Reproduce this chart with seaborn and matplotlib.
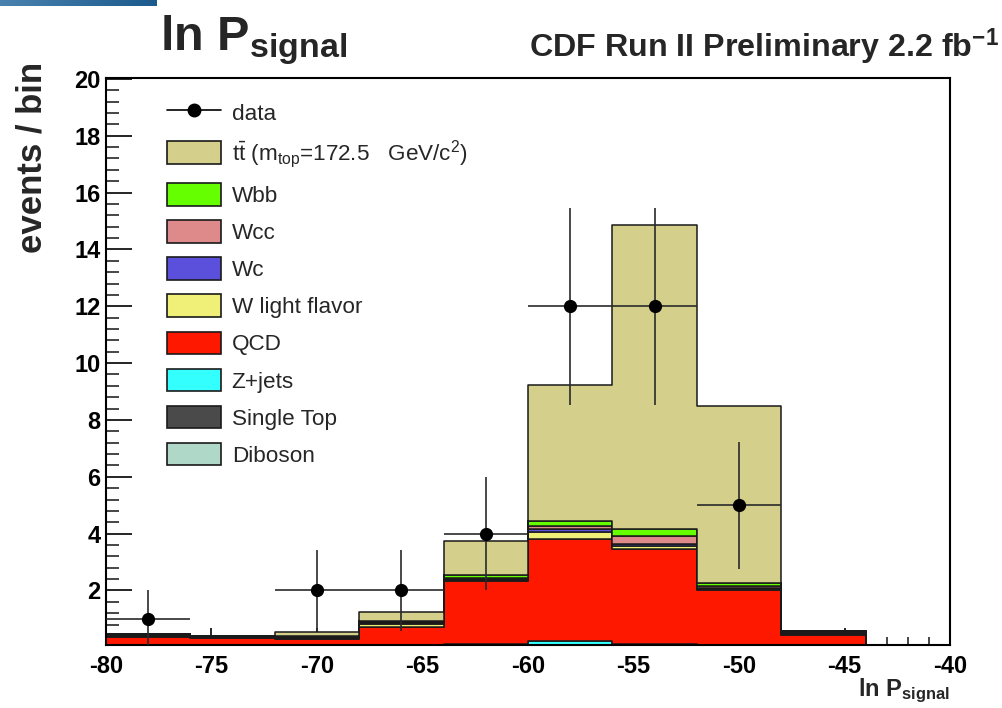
import numpy as np
import pandas as pd
import matplotlib
matplotlib.use("Agg")
import matplotlib.pyplot as plt
import seaborn as sns
from matplotlib.patches import Patch
from matplotlib.lines import Line2D
from matplotlib.ticker import MultipleLocator
from matplotlib.colors import LinearSegmentedColormap

# ---------------- data ----------------
bin_edges = [-80, -76, -72, -68, -64, -60, -56, -52, -48, -44, -40]
bin_centers = [-78, -74, -70, -66, -62, -58, -54, -50, -46, -42]

processes = ["ttbar", "Wbb", "Wcc", "Wc", "Wlf", "QCD", "Zjets", "SingleTop", "Diboson"]
legend_labels = [
    r"$\mathrm{t\bar{t}}$ (m$_{\mathrm{top}}$=172.5   GeV/c$^{2}$)",
    "Wbb", "Wcc", "Wc", "W light flavor", "QCD", "Z+jets", "Single Top", "Diboson",
]
colors = ["#d4cf8a", "#66ff00", "#de8a8a", "#5a50dc", "#f0f078",
          "#ff1800", "#33ffff", "#4a4a4a", "#b0d8c8"]

ttbar = [0.00, 0.00, 0.17, 0.32, 1.19, 4.77, 10.71, 6.24, 0.02, 0.0]
wbb   = [0.03, 0.02, 0.03, 0.03, 0.10, 0.19, 0.25, 0.11, 0.03, 0.0]
wcc   = [0.03, 0.02, 0.02, 0.03, 0.04, 0.12, 0.25, 0.04, 0.03, 0.0]
wc    = [0.03, 0.02, 0.02, 0.03, 0.04, 0.08, 0.09, 0.04, 0.03, 0.0]
wlf   = [0.04, 0.03, 0.03, 0.10, 0.04, 0.27, 0.10, 0.04, 0.05, 0.0]
qcd   = [0.33, 0.30, 0.27, 0.71, 2.21, 3.58, 3.33, 1.93, 0.38, 0.0]
zjets = [0.00, 0.00, 0.00, 0.00, 0.05, 0.19, 0.02, 0.03, 0.02, 0.0]
stop  = [0.01, 0.02, 0.01, 0.02, 0.05, 0.01, 0.10, 0.05, 0.02, 0.0]
dibos = [0.01, 0.00, 0.00, 0.00, 0.02, 0.02, 0.01, 0.01, 0.00, 0.0]

data_counts = [1, 0, 2, 2, 4, 12, 12, 5, 0, 0]
data_errors = [1.0, 0.0, 1.41, 1.41, 2.0, 3.46, 3.46, 2.24, 0.0, 0.0]

x_ticks = [-80, -75, -70, -65, -60, -55, -50, -45, -40]
y_ticks = [2, 4, 6, 8, 10, 12, 14, 16, 18, 20]

# ---------------- style ----------------
sns.set_style("ticks")
plt.rcParams["font.family"] = ["Liberation Sans", "DejaVu Sans"]
plt.rcParams["mathtext.fontset"] = "custom"
plt.rcParams["mathtext.rm"] = "Liberation Sans"
plt.rcParams["mathtext.it"] = "Liberation Sans:italic"
plt.rcParams["mathtext.bf"] = "Liberation Sans:bold"
plt.rcParams["axes.unicode_minus"] = False

series = dict(zip(processes, [ttbar, wbb, wcc, wc, wlf, qcd, zjets, stop, dibos]))
rows = []
for p in processes:
    for c, w in zip(bin_centers, series[p]):
        rows.append({"x": c, "w": w, "process": p})
df = pd.DataFrame(rows)

fig = plt.figure(figsize=(10.02, 7.08), dpi=100)
ax = fig.add_axes([106 / 1002, 1 - 645 / 708, (950 - 106) / 1002, (645 - 77.5) / 708])

sns.histplot(data=df, x="x", weights="w", hue="process", hue_order=processes,
             palette=dict(zip(processes, colors)), multiple="stack",
             element="step", bins=bin_edges, alpha=1, edgecolor="#1a1a1a",
             linewidth=1.1, legend=False, ax=ax)

dx = np.array(bin_centers, dtype=float)
dy = np.array(data_counts, dtype=float)
de = np.array(data_errors, dtype=float)
mask = dy > 0
half = (bin_edges[1] - bin_edges[0]) / 2
ax.errorbar(dx[mask], dy[mask], xerr=half, yerr=de[mask], fmt="o", color="black",
            ecolor="#2a2a2a", elinewidth=1.2, markersize=8.5, capsize=0, zorder=5)

ax.set_xlim(-80, -40)
ax.set_ylim(0.08, 20.05)
ax.set_xticks(x_ticks, labels=[str(t) for t in x_ticks], fontweight="bold", fontsize=17)
ax.set_yticks(y_ticks, labels=[str(t) for t in y_ticks], fontweight="bold", fontsize=17)
ax.xaxis.set_minor_locator(MultipleLocator(1))
ax.yaxis.set_minor_locator(MultipleLocator(0.4))
ax.tick_params(axis="x", which="major", direction="in", length=12, width=1.2, pad=7,
               top=False, colors="black")
ax.tick_params(axis="x", which="minor", direction="in", length=6, width=1.2, top=False)
ax.tick_params(axis="y", which="major", direction="in", length=19, width=1.2, pad=4,
               right=False, colors="black")
ax.tick_params(axis="y", which="minor", direction="in", length=9.5, width=1.2, right=False)
for s in ax.spines.values():
    s.set_visible(True)
    s.set_linewidth(1.5)
    s.set_color("black")

ax.set_xlabel(r"ln P$_{\mathbf{signal}}$", fontsize=17, fontweight="bold", ha="right")
ax.xaxis.set_label_coords(1.0, -0.055)
ax.set_ylabel("events / bin", fontsize=25, fontweight="bold")
ax.yaxis.set_label_coords(-0.068, 0.86)
ax.yaxis.label.set_ha("center")

# legend
handles = [Line2D([0], [0], color="black", lw=1.2, marker="o", markersize=9,
                  markerfacecolor="black")]
handles += [Patch(facecolor=c, edgecolor="#1a1a1a", linewidth=1.2) for c in colors]
labels = ["data"] + legend_labels
ax.legend(handles, labels, loc="upper left", bbox_to_anchor=(166.7 / 1002, 1 - 101 / 708),
          bbox_transform=fig.transFigure, frameon=False, fontsize=16.2,
          handlelength=2.4, handleheight=1.16, labelspacing=0.59, handletextpad=0.49,
          borderpad=0, borderaxespad=0)

# titles
fig.text(160 / 1002, 1 - 50 / 708, r"ln P$_{\mathbf{signal}}$", fontsize=35,
         fontweight="bold", ha="left", va="baseline")
fig.text(0.997, 1 - 57 / 708, r"CDF Run II Preliminary 2.2 fb$^{\mathbf{-1}}$",
         fontsize=23.2, fontweight="bold", ha="right", va="baseline")

# decorative header strip
bar_ax = fig.add_axes([0, 1 - 6 / 708, 157 / 1002, 6 / 708])
cmap = LinearSegmentedColormap.from_list("hdr", ["#4a82ae", "#1b5a8c"])
bar_ax.imshow(np.linspace(0, 1, 256)[None, :], aspect="auto", cmap=cmap)
bar_ax.axis("off")

fig.savefig("out.png", dpi=100)
